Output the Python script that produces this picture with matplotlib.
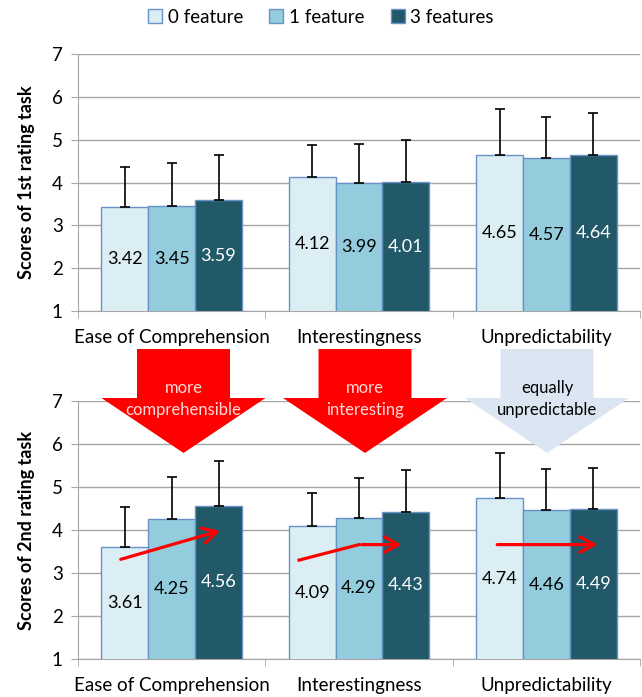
import matplotlib.pyplot as plt
from matplotlib.patches import Patch, Polygon
import numpy as np

plt.rcParams['font.family'] = ['Lato', 'DejaVu Sans']

categories = ['Ease of Comprehension', 'Interestingness', 'Unpredictability']
series = ['0 feature', '1 feature', '3 features']

task1_means = [[3.42, 4.12, 4.65], [3.45, 3.99, 4.57], [3.59, 4.01, 4.64]]
task1_sd = [[0.95, 0.76, 1.06], [1.01, 0.92, 0.95], [1.06, 0.98, 0.98]]
task2_means = [[3.61, 4.09, 4.74], [4.25, 4.29, 4.46], [4.56, 4.43, 4.49]]
task2_sd = [[0.93, 0.76, 1.05], [0.99, 0.92, 0.97], [1.05, 0.97, 0.96]]

colors = ['#DBEEF4', '#93CDDD', '#215968']
text_colors = ['black', 'black', 'white']
edge = '#6A92C8'
grid_col = '#A6A6A6'

W, H = 642, 697


def rect(left, top, right, bottom):
    return [left / W, 1 - bottom / H, (right - left) / W, (bottom - top) / H]


def pt(x, y):
    return (x / W, 1 - y / H)


def draw_panel(ax, means, sds, ylabel):
    x = np.arange(len(categories))
    width = 0.25
    for i in range(3):
        pos = x + (i - 1) * width
        ax.bar(pos, means[i], width, bottom=0, color=colors[i], edgecolor=edge,
               linewidth=1, zorder=3)
        ax.errorbar(pos, means[i], yerr=[[0] * 3, sds[i]], fmt='none',
                    ecolor='black', elinewidth=1.2, capsize=3.5, capthick=1.2, zorder=4)
        for p, m in zip(pos, means[i]):
            ax.text(p, (1 + m) / 2, f'{m:.2f}', ha='center', va='center',
                    fontsize=13, color=text_colors[i], zorder=5)
    ax.set_ylim(1, 7)
    ax.set_xlim(-0.5, 2.5)
    ax.set_yticks(range(1, 8))
    ax.set_xticks(x)
    ax.set_xticklabels(categories, fontsize=13.5)
    ax.set_xticks([-0.5, 0.5, 1.5, 2.5], minor=True)
    ax.tick_params(axis='x', which='major', length=0, pad=13)
    ax.tick_params(axis='x', which='minor', length=5, color=grid_col, direction='out')
    ax.tick_params(axis='y', length=5, color=grid_col, labelsize=13.5, pad=6)
    ax.grid(axis='y', color=grid_col, linewidth=1, zorder=0)
    for s in ['top', 'right']:
        ax.spines[s].set_visible(False)
    for s in ['left', 'bottom']:
        ax.spines[s].set_color(grid_col)
    ax.set_ylabel(ylabel, fontsize=13, fontweight='bold', labelpad=12)


fig = plt.figure(figsize=(6.42, 6.97), dpi=100)
ax1 = fig.add_axes(rect(78, 54, 640, 311))
ax2 = fig.add_axes(rect(78, 401, 640, 659))
draw_panel(ax1, task1_means, task1_sd, 'Scores of 1st rating task')
draw_panel(ax2, task2_means, task2_sd, 'Scores of 2nd rating task')

# trend arrows in second panel
arr = dict(arrowstyle='->,head_length=1.0,head_width=0.55', color='red', lw=2.3)
ax2.annotate('', xy=(0.272, 4.0), xytext=(-0.286, 3.30), arrowprops=arr, zorder=6)
ax2.plot([0.68, 1.0], [3.30, 3.66], color='red', lw=2.3, zorder=6)
ax2.annotate('', xy=(1.242, 3.66), xytext=(1.0, 3.66), arrowprops=arr, zorder=6)
ax2.annotate('', xy=(2.286, 3.66), xytext=(1.723, 3.66), arrowprops=arr, zorder=6)

# big block arrows between the panels
blocks = [(183.5, '#FF0000', 'more\ncomprehensible', '#FFD9D9'),
          (365, '#FF0000', 'more\ninteresting', '#FFD9D9'),
          (547, '#DCE6F2', 'equally\nunpredictable', 'black')]
for cx, fc, label, tc in blocks:
    pts = [pt(cx - 46.5, 349), pt(cx + 46.5, 349), pt(cx + 46.5, 398),
           pt(cx + 82, 398), pt(cx, 453), pt(cx - 82, 398), pt(cx - 46.5, 398)]
    fig.patches.append(Polygon(pts, closed=True, facecolor=fc, edgecolor='none',
                               transform=fig.transFigure, zorder=10))
    fig.text(cx / W, 1 - 399 / H, label, ha='center', va='center', fontsize=12,
             color=tc, linespacing=1.45, zorder=11)

handles = [Patch(facecolor=c, edgecolor=edge, label=s) for c, s in zip(colors, series)]
fig.legend(handles=handles, loc='upper center', bbox_to_anchor=(0.5, 1.012), ncol=3,
           frameon=False, fontsize=13.5, handlelength=0.75, handleheight=0.75,
           handletextpad=0.3, columnspacing=1.4)

fig.savefig('out.png', dpi=100)
